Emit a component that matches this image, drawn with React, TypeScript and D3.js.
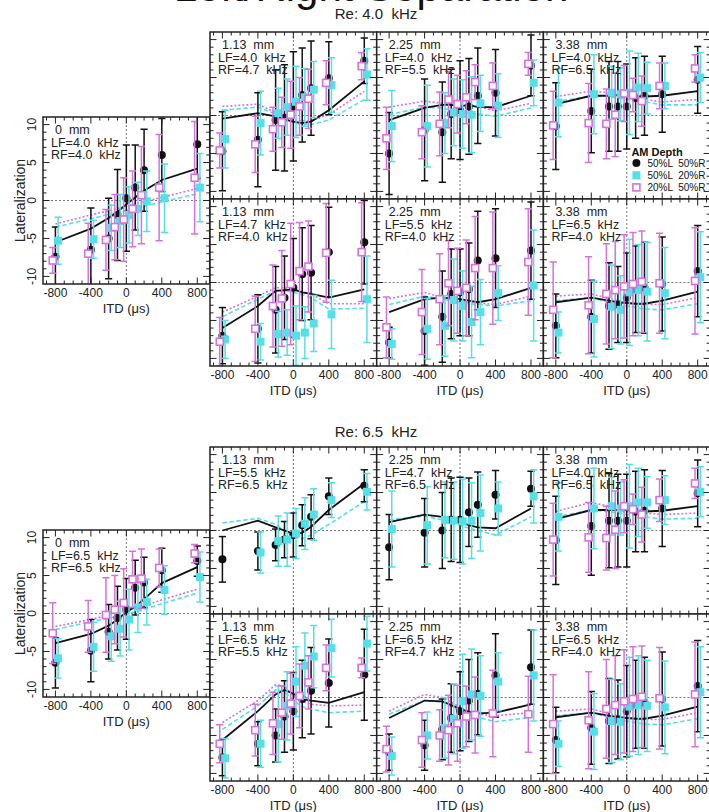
import React from "react";
import * as d3 from "d3";

// ---------- shared axis values ----------
const ITD = [-800, -400, -200, -100, 0, 100, 200, 400, 800];
const X_MAJOR = [-800, -400, 0, 400, 800];
const Y_MAJOR = [-10, -5, 0, 5, 10];
const SERIES_NAMES = ["50%L  50%R", "50%L  20%R", "20%L  50%R"];
const GROUP_TITLES = ["Re: 4.0  kHz", "Re: 6.5  kHz"];

// ---------- Re 4.0 kHz ----------
// each: [black (50%L 50%R), cyan (50%L 20%R), pink (20%L 50%R)]
const T0_MEAN = [
  [-7.4, -6.5, -5.0, -1.9, 0.3, 1.7, 4.0, 6.0, 7.4],
  [-5.3, -5.1, -3.6, -2.7, -1.9, -1.1, -0.1, 0.3, 1.7],
  [-7.9, -7.0, -5.2, -3.5, -2.5, -1.1, 0.7, 1.7, 3.0],
];
const T0_ERR = [
  [3.9, 5.5, 5.3, 6.0, 7.0, 5.6, 5.4, 4.8, 4.5],
  [3.1, 2.5, 3.0, 3.5, 3.7, 3.5, 4.0, 4.5, 4.5],
  [1.7, 4.0, 4.0, 4.3, 5.5, 5.0, 6.4, 7.0, 7.4],
];
const T0_MODEL = [
  [-5.5, -3.7, -2.3, -1.5, -0.5, 0.4, 1.3, 2.7, 4.2],
  [-3.5, -2.4, -1.85, -1.6, -1.3, -1.0, -0.75, -0.2, 0.9],
  [-3.1, -1.9, -1.35, -1.05, -0.75, -0.45, -0.15, 0.4, 1.6],
];

const T1_MEAN = [
  [-4.7, -3.2, -0.6, -0.3, 1.2, 2.7, 3.6, 4.9, 7.2],
  [-3.1, -1.0, 0.3, 1.1, 1.8, 2.4, 3.4, 4.0, 5.4],
  [-4.6, -3.8, -1.8, -0.9, 0.1, 1.2, 2.2, 4.3, 6.5],
];
const T1_ERR = [
  [5.2, 6.2, 6.6, 7.0, 7.2, 6.2, 6.2, 4.8, 3.0],
  [3.8, 4.2, 3.3, 3.7, 4.7, 3.8, 3.7, 3.6, 3.4],
  [2.3, 3.7, 2.9, 3.3, 4.4, 3.8, 3.9, 2.9, 1.8],
];
const T1_MODEL = [
  [-0.4, 0.3, -0.1, -0.5, -0.8, -1.0, -0.8, 0.7, 4.5],
  [0.7, 1.1, 0.2, -0.4, -1.0, -1.1, -1.2, -0.6, 2.1],
  [1.2, 1.5, 0.4, -0.1, -0.6, -0.7, -0.7, 0.1, 3.2],
];

const T2_MEAN = [
  [-5.0, -1.9, -2.2, 0.2, 0.7, 1.2, 2.6, 3.0, 6.6],
  [-1.4, -1.4, -1.0, 0.4, 0.2, 0.1, 1.6, 1.3, 4.3],
  [-3.0, -2.2, -1.1, 2.1, 1.5, 2.4, 4.4, 3.9, 6.8],
];
const T2_ERR = [
  [5.4, 6.7, 6.6, 5.9, 6.5, 6.3, 6.3, 5.7, 4.0],
  [4.7, 5.4, 4.0, 4.4, 4.5, 5.0, 3.7, 4.2, 3.0],
  [4.1, 3.5, 4.2, 3.7, 3.8, 3.5, 2.3, 3.0, 1.5],
];
const T2_MODEL = [
  [-0.6, 1.0, 1.4, 1.4, 1.2, 1.4, 1.1, 1.1, 2.6],
  [0.1, 1.1, 1.0, 0.7, 0.4, 0.3, 0.2, -0.1, 1.0],
  [1.1, 1.9, 1.6, 1.5, 1.4, 1.3, 1.2, 0.6, 1.6],
];

const T3_MEAN = [
  [-1.4, 0.6, 1.2, 1.2, 1.2, 2.3, 2.6, 2.8, 4.7],
  [1.7, 2.8, 3.0, 2.8, 3.0, 3.7, 3.6, 3.9, 5.0],
  [-1.3, -1.0, -1.1, 0.1, 2.9, 2.7, 1.9, 3.9, 6.2],
];
const T3_ERR = [
  [5.7, 5.5, 5.9, 5.9, 5.6, 5.3, 5.2, 5.0, 4.4],
  [4.5, 5.2, 3.5, 3.5, 5.5, 4.5, 3.4, 3.0, 3.3],
  [4.5, 5.2, 4.6, 5.5, 3.7, 2.2, 3.3, 3.0, 1.8],
];
const T3_MODEL = [
  [1.5, 2.6, 2.6, 2.7, 2.8, 2.5, 2.5, 2.6, 3.2],
  [1.8, 2.6, 2.5, 2.3, 2.1, 2.0, 1.8, 1.4, 1.4],
  [2.5, 3.2, 3.0, 2.6, 2.3, 2.2, 2.1, 1.8, 2.1],
];

const T4_MEAN = [
  [-7.0, -6.1, -3.6, -2.0, -0.7, 1.1, 1.3, 4.0, 5.3],
  [-7.5, -7.8, -6.8, -6.6, -7.0, -6.6, -5.4, -4.2, -2.2],
  [-7.8, -6.1, -3.1, -2.1, -0.2, 1.5, 2.1, 3.9, 4.0],
];
const T4_ERR = [
  [3.7, 4.5, 5.7, 5.5, 6.5, 6.1, 6.2, 5.9, 5.5],
  [2.5, 2.4, 3.0, 3.0, 3.9, 3.4, 3.7, 4.5, 5.7],
  [3.2, 4.3, 5.4, 6.3, 8.0, 6.4, 6.0, 6.5, 6.5],
];
const T4_MODEL = [
  [-6.0, -3.1, -1.1, -1.0, -0.9, -1.3, -1.5, -2.0, -0.9],
  [-4.5, -2.2, -1.1, -1.1, -1.3, -1.6, -2.0, -3.5, -3.4],
  [-3.9, -1.8, -0.7, -0.7, -0.9, -1.2, -1.5, -2.8, -2.8],
];

const T5_MEAN = [
  [-7.9, -6.4, -4.5, -1.5, -1.3, -0.9, 2.9, 3.2, 4.2],
  [-8.1, -6.1, -5.7, -2.3, -3.1, -5.2, -3.9, -1.4, -0.4],
  [-5.9, -3.9, -2.2, -0.1, -1.1, -0.7, 1.9, 1.9, 2.7],
];
const T5_ERR = [
  [2.0, 4.5, 6.0, 5.9, 5.7, 6.1, 6.5, 6.5, 6.4],
  [2.0, 4.0, 4.0, 5.4, 4.6, 4.7, 4.3, 3.6, 7.3],
  [4.0, 5.6, 6.0, 5.6, 5.6, 6.3, 6.8, 7.4, 7.0],
];
const T5_MODEL = [
  [-3.9, -2.2, -2.0, -2.1, -2.2, -2.4, -2.6, -2.2, -0.7],
  [-2.9, -1.8, -2.2, -2.4, -2.6, -2.8, -2.9, -3.1, -2.4],
  [-2.1, -1.3, -2.0, -2.2, -2.4, -2.6, -2.7, -2.9, -1.8],
];

const T6_MEAN = [
  [-5.7, -4.5, -3.1, -2.9, -2.0, -0.9, -0.7, -0.2, 1.5],
  [-6.6, -4.8, -3.2, -3.6, -1.3, -1.0, -1.2, -1.4, 0.7],
  [-3.6, -3.0, -1.5, -1.0, -0.5, -0.2, 0.1, -0.1, 0.2],
];
const T6_ERR = [
  [4.2, 4.8, 5.7, 5.0, 5.9, 5.7, 6.0, 6.2, 6.0],
  [2.7, 5.0, 5.5, 4.5, 7.0, 6.0, 6.5, 6.0, 6.0],
  [6.3, 6.4, 6.6, 6.4, 6.8, 6.8, 6.7, 6.6, 7.0],
];
const T6_MODEL = [
  [-2.6, -2.0, -2.4, -2.6, -2.7, -2.8, -2.8, -2.4, -1.2],
  [-2.4, -2.0, -2.6, -2.9, -3.1, -3.3, -3.5, -3.6, -2.8],
  [-1.8, -1.5, -2.1, -2.4, -2.6, -2.8, -2.9, -2.9, -2.0],
];

// ---------- Re 6.5 kHz ----------
const B0_MEAN = [
  [-6.5, -4.9, -2.4, -0.6, 0.6, 3.4, 4.1, 5.7, 6.9],
  [-5.9, -4.4, -3.0, -2.0, -0.8, 0.8, 1.5, 3.1, 4.8],
  [-2.6, -1.7, -0.2, 0.5, 1.4, 4.5, 4.6, 6.0, 7.9],
];
const B0_ERR = [
  [3.3, 4.1, 3.6, 4.2, 4.0, 3.6, 3.3, 2.9, 2.0],
  [2.6, 3.2, 3.3, 3.6, 4.0, 3.3, 3.0, 3.2, 3.3],
  [4.0, 3.4, 4.9, 4.5, 4.5, 3.7, 3.9, 2.5, 1.2],
];
const B0_MODEL = [
  [-3.9, -2.7, -1.6, -0.8, 0.2, 0.9, 1.9, 4.0, 6.1],
  [-2.1, -1.1, -0.6, -0.35, -0.1, 0.25, 0.55, 1.3, 2.7],
  [-1.7, -0.8, -0.2, 0.1, 0.4, 0.7, 1.0, 1.8, 3.2],
];

const B1_MEAN = [
  [-3.8, -2.7, -1.9, -1.2, -0.6, 0.7, 1.8, 4.5, 5.9],
  [null, -2.9, -1.4, -1.2, -0.4, 0.9, 2.1, 4.0, 5.1],
  null,
];
const B1_ERR = [
  [3.0, 2.5, 2.1, 2.4, 2.9, 2.7, 2.9, 2.4, 2.1],
  [2.5, 2.7, 3.3, 3.5, 3.3, 3.4, 3.4, 2.3, 2.4],
  null,
];
const B1_MODEL = [
  [0.0, 1.3, 0.4, 0.0, -0.4, -0.3, 0.5, 2.7, 6.2],
  [1.0, 1.6, 0.8, 0.0, -0.8, -1.1, -0.6, 0.8, 3.8],
  null,
];

const B2_MEAN = [
  [-2.2, -0.3, 0.0, 1.4, 1.4, 2.4, 3.4, 4.7, 5.5],
  [0.2, 0.7, 1.4, 1.3, 1.2, 1.3, 2.3, 2.9, 4.5],
  null,
];
const B2_ERR = [
  [4.3, 4.5, 5.0, 5.5, 5.6, 4.5, 4.3, 3.2, 2.3],
  [5.0, 5.1, 5.0, 5.1, 5.6, 5.0, 5.0, 3.5, 3.5],
  null,
];
const B2_MODEL = [
  [1.1, 2.1, 1.8, 1.4, 1.1, 0.7, 0.4, 0.3, 2.9],
  [1.4, 1.9, 1.4, 1.0, 0.7, 0.3, 0.0, -0.6, 1.8],
  null,
];

const B3_MEAN = [
  [-1.3, 0.6, 1.3, 1.3, 1.3, 2.5, 2.6, 2.9, 4.9],
  [1.8, 2.9, 3.2, 2.9, 3.2, 3.7, 3.7, 4.0, 5.1],
  [-1.2, -0.9, -1.0, 0.1, 3.2, 2.8, 2.1, 4.0, 6.2],
];
const B3_ERR = [
  [5.8, 6.5, 6.2, 6.1, 6.1, 5.3, 5.4, 5.0, 4.4],
  [4.5, 5.3, 3.8, 3.5, 5.5, 4.5, 3.4, 3.2, 3.3],
  [4.8, 4.6, 4.2, 5.1, 3.5, 2.0, 3.6, 2.8, 2.0],
];
const B3_MODEL = [
  [1.5, 2.7, 2.7, 2.7, 2.7, 2.5, 2.5, 2.6, 3.2],
  [1.8, 2.7, 2.5, 2.3, 2.1, 2.0, 1.8, 1.5, 1.6],
  [2.5, 3.7, 3.2, 2.8, 2.5, 2.4, 2.3, 2.1, 2.3],
];

const B4_MEAN = [
  [-7.9, -6.1, -5.0, -2.5, -1.8, -0.2, 0.9, 1.9, 3.0],
  [-8.0, -6.1, -3.5, -1.1, 2.1, 4.2, 5.4, 6.5, 7.1],
  [-6.1, -4.3, -3.4, -2.0, -0.8, 0.2, 2.0, 3.9, 3.9],
];
const B4_ERR = [
  [2.4, 2.9, 3.5, 4.7, 5.1, 5.1, 5.7, 5.8, 6.0],
  [2.6, 3.1, 5.0, 4.5, 4.6, 4.3, 4.1, 3.8, 3.6],
  [2.5, 3.4, 4.1, 3.5, 4.0, 4.2, 3.5, 3.0, 1.3],
];
const B4_MODEL = [
  [-5.6, -1.8, 0.4, 1.0, 0.5, -0.2, -0.4, -0.7, 0.7],
  [-4.2, -1.1, 1.0, 0.8, -0.4, -1.2, -1.5, -2.0, -1.8],
  [-3.3, -0.4, 1.7, 1.5, 0.2, -0.5, -0.9, -1.1, -1.0],
];

const B5_MEAN = [
  [-7.2, -6.3, -4.2, -2.7, -1.8, -0.4, 0.5, 2.9, 4.0],
  [-7.7, -5.0, -4.0, -2.8, -0.5, 0.4, 0.2, 2.1, 2.9],
  [-6.8, -5.6, -5.0, -4.3, -3.4, -2.5, -2.3, -2.1, -2.2],
];
const B5_ERR = [
  [2.4, 3.3, 4.0, 4.5, 5.2, 5.4, 5.4, 5.5, 4.9],
  [2.5, 3.1, 4.0, 4.6, 6.2, 6.0, 5.3, 3.8, 6.0],
  [3.0, 3.6, 3.4, 4.6, 5.0, 4.0, 5.0, 5.7, 5.0],
];
const B5_MODEL = [
  [-2.7, -0.4, -0.5, -1.0, -1.5, -1.9, -2.1, -2.0, -0.9],
  [-2.2, -0.4, -0.6, -1.2, -1.8, -2.2, -2.6, -3.2, -2.6],
  [-1.8, 0.4, 0.0, -0.6, -1.3, -1.8, -2.2, -2.4, -2.0],
];

const B6_MEAN = [
  [-5.6, -4.0, -3.1, -2.9, -1.8, -0.9, -0.7, -0.2, 1.5],
  [-6.1, -4.5, -3.1, -3.2, -1.2, -1.0, -1.1, -1.3, 0.7],
  [-3.5, -3.0, -1.5, -1.0, -0.5, -0.2, 0.1, -0.1, 0.4],
];
const B6_ERR = [
  [4.3, 4.8, 5.6, 5.2, 6.0, 5.8, 6.0, 6.2, 6.0],
  [3.0, 5.0, 5.5, 5.0, 6.5, 6.5, 6.0, 6.1, 6.0],
  [6.5, 6.4, 6.5, 6.5, 6.8, 6.9, 6.7, 6.7, 6.9],
];
const B6_MODEL = [
  [-2.6, -2.0, -2.4, -2.6, -2.7, -2.8, -2.8, -2.4, -1.2],
  [-2.4, -2.0, -2.6, -2.9, -3.1, -3.3, -3.5, -3.6, -2.8],
  [-1.8, -1.5, -2.1, -2.4, -2.6, -2.8, -2.9, -2.9, -2.0],
];

// ---------- styling / layout ----------
const FONT = "'Liberation Sans', Arial, Helvetica, sans-serif";
const COLORS = ["#111111", "#55dfe6", "#d672dc"];
const OFFSETS = [0, 30, -30];
const LINE_DASH = [null, "4.5,2.5", "2,2"];
const PW = 166.7;
const PH = 167;
const LX = 43;
const GX = [210, 210 + PW, 210 + 2 * PW];

type PanelDef = {
  id: string;
  x: number;
  y: number;
  label: string[];
  mean: any;
  err: any;
  model: any;
  xLabels: boolean;
  yLabels: boolean;
  legend?: boolean;
};

function makeGroup(
  g: number,
  top: number,
  leftTop: number,
  data: any[],
  labels: string[][]
): PanelDef[] {
  const out: PanelDef[] = [];
  out.push({
    id: `g${g}p0`, x: LX, y: leftTop, label: labels[0],
    mean: data[0][0], err: data[0][1], model: data[0][2],
    xLabels: true, yLabels: true,
  });
  for (let r = 0; r < 2; r++) {
    for (let c = 0; c < 3; c++) {
      const k = 1 + r * 3 + c;
      out.push({
        id: `g${g}p${k}`, x: GX[c], y: top + r * PH, label: labels[k],
        mean: data[k][0], err: data[k][1], model: data[k][2],
        xLabels: r === 1, yLabels: false,
        legend: g === 0 && r === 0 && c === 2,
      });
    }
  }
  return out;
}

const PANELS: PanelDef[] = [
  ...makeGroup(
    0, 32, 117,
    [
      [T0_MEAN, T0_ERR, T0_MODEL], [T1_MEAN, T1_ERR, T1_MODEL], [T2_MEAN, T2_ERR, T2_MODEL],
      [T3_MEAN, T3_ERR, T3_MODEL], [T4_MEAN, T4_ERR, T4_MODEL], [T5_MEAN, T5_ERR, T5_MODEL],
      [T6_MEAN, T6_ERR, T6_MODEL],
    ],
    [
      ["0  mm", "LF=4.0  kHz", "RF=4.0  kHz"],
      ["1.13  mm", "LF=4.0  kHz", "RF=4.7  kHz"],
      ["2.25  mm", "LF=4.0  kHz", "RF=5.5  kHz"],
      ["3.38  mm", "LF=4.0  kHz", "RF=6.5  kHz"],
      ["1.13  mm", "LF=4.7  kHz", "RF=4.0  kHz"],
      ["2.25  mm", "LF=5.5  kHz", "RF=4.0  kHz"],
      ["3.38  mm", "LF=6.5  kHz", "RF=4.0  kHz"],
    ]
  ),
  ...makeGroup(
    1, 447, 530,
    [
      [B0_MEAN, B0_ERR, B0_MODEL], [B1_MEAN, B1_ERR, B1_MODEL], [B2_MEAN, B2_ERR, B2_MODEL],
      [B3_MEAN, B3_ERR, B3_MODEL], [B4_MEAN, B4_ERR, B4_MODEL], [B5_MEAN, B5_ERR, B5_MODEL],
      [B6_MEAN, B6_ERR, B6_MODEL],
    ],
    [
      ["0  mm", "LF=6.5  kHz", "RF=6.5  kHz"],
      ["1.13  mm", "LF=5.5  kHz", "RF=6.5  kHz"],
      ["2.25  mm", "LF=4.7  kHz", "RF=6.5  kHz"],
      ["3.38  mm", "LF=4.0  kHz", "RF=6.5  kHz"],
      ["1.13  mm", "LF=6.5  kHz", "RF=5.5  kHz"],
      ["2.25  mm", "LF=6.5  kHz", "RF=4.7  kHz"],
      ["3.38  mm", "LF=6.5  kHz", "RF=4.0  kHz"],
    ]
  ),
];

function Marker({ s, cx, cy }: { s: number; cx: number; cy: number }) {
  if (s === 0) return <circle cx={cx} cy={cy} r={4} fill={COLORS[0]} />;
  if (s === 1)
    return <rect x={cx - 4} y={cy - 4} width={8} height={8} fill={COLORS[1]} />;
  return (
    <rect x={cx - 3.5} y={cy - 3.5} width={7} height={7} fill="#fff"
      stroke={COLORS[2]} strokeWidth={1.6} />
  );
}

function Panel({ p }: { p: PanelDef }) {
  const x = d3.scaleLinear().domain([-940, 940]).range([p.x, p.x + PW]);
  const y = d3.scaleLinear().domain([-11, 11]).range([p.y + PH, p.y]);
  const line = d3
    .line<number>()
    .x((_, i) => x(ITD[i]))
    .y((d) => y(d));
  const clip = `clip-${p.id}`;
  const xMinor = d3.range(-900, 901, 100);
  const yMinor = d3.range(-10, 11, 1);
  const x0 = p.x, x1 = p.x + PW, y0 = p.y, y1 = p.y + PH;
  const tickColor = "#222";

  return (
    <g>
      <defs>
        <clipPath id={clip}>
          <rect x={x0} y={y0} width={PW} height={PH} />
        </clipPath>
      </defs>
      <rect x={x0} y={y0} width={PW} height={PH} fill="#fff" />
      <g clipPath={`url(#${clip})`}>
        <line x1={x0} x2={x1} y1={y(0)} y2={y(0)} stroke="#555" strokeWidth={0.8} strokeDasharray="2,2" />
        <line x1={x(0)} x2={x(0)} y1={y0} y2={y1} stroke="#555" strokeWidth={0.8} strokeDasharray="2,2" />
        {[2, 1, 0].map((s) =>
          p.model[s] ? (
            <path key={`m${s}`} d={line(p.model[s]) || ""} fill="none" stroke={COLORS[s]}
              strokeWidth={s === 0 ? 1.8 : 1.6} strokeDasharray={LINE_DASH[s] || undefined} />
          ) : null
        )}
        {[0, 1, 2].map((s) =>
          p.mean[s] ? (
            <g key={`s${s}`}>
              {ITD.map((t, i) => {
                const m = p.mean[s][i];
                if (m === null || m === undefined) return null;
                const e = p.err[s][i];
                const cx = x(t + OFFSETS[s]);
                const ya = y(m + e), yb = y(m - e);
                return (
                  <g key={i} stroke={COLORS[s]} strokeWidth={1.5}>
                    <line x1={cx} x2={cx} y1={ya} y2={yb} />
                    <line x1={cx - 3.6} x2={cx + 3.6} y1={ya} y2={ya} />
                    <line x1={cx - 3.6} x2={cx + 3.6} y1={yb} y2={yb} />
                  </g>
                );
              })}
              {ITD.map((t, i) => {
                const m = p.mean[s][i];
                if (m === null || m === undefined) return null;
                return <Marker key={`k${i}`} s={s} cx={x(t + OFFSETS[s])} cy={y(m)} />;
              })}
            </g>
          ) : null
        )}
      </g>
      {/* ticks */}
      <g stroke={tickColor} strokeWidth={1}>
        {xMinor.map((t) => {
          const len = X_MAJOR.includes(t) ? 6.5 : 3.5;
          return (
            <g key={`xt${t}`}>
              <line x1={x(t)} x2={x(t)} y1={y1} y2={y1 - len} />
              <line x1={x(t)} x2={x(t)} y1={y0} y2={y0 + len} />
            </g>
          );
        })}
        {yMinor.map((v) => {
          const len = Y_MAJOR.includes(v) ? 6.5 : 3.5;
          return (
            <g key={`yt${v}`}>
              <line x1={x0} x2={x0 + len} y1={y(v)} y2={y(v)} />
              <line x1={x1} x2={x1 - len} y1={y(v)} y2={y(v)} />
            </g>
          );
        })}
      </g>
      <rect x={x0} y={y0} width={PW} height={PH} fill="none" stroke="#222" strokeWidth={1.5} />
      {/* panel text */}
      <g fontFamily={FONT} fontSize={12.5} fill="#222">
        <text x={x0 + 12} y={y0 + 17} style={{ whiteSpace: "pre" }}>{p.label[0]}</text>
        <text x={x0 + 8} y={y0 + 29.5} style={{ whiteSpace: "pre" }}>{p.label[1]}</text>
        <text x={x0 + 8} y={y0 + 42} style={{ whiteSpace: "pre" }}>{p.label[2]}</text>
      </g>
      {p.xLabels && (
        <g fontFamily={FONT} fontSize={12} fill="#222" textAnchor="middle">
          {X_MAJOR.map((t) => (
            <text key={`xl${t}`} x={x(t)} y={y1 + 13}>{t < 0 ? `-${-t}` : `${t}`}</text>
          ))}
          <text x={(x0 + x1) / 2} y={y1 + 29} fontSize={13}>ITD (μs)</text>
        </g>
      )}
      {p.yLabels && (
        <g fontFamily={FONT} fontSize={12} fill="#222" textAnchor="middle">
          {Y_MAJOR.map((v) => (
            <text key={`yl${v}`} transform={`translate(${x0 - 7},${y(v)}) rotate(-90)`}>
              {v < 0 ? `-${-v}` : `${v}`}
            </text>
          ))}
          <text transform={`translate(${x0 - 18},${(y0 + y1) / 2}) rotate(-90)`} fontSize={14}>
            Lateralization
          </text>
        </g>
      )}
      {p.legend && (
        <g fontFamily={FONT} fontSize={10} fill="#111">
          <text x={x0 + 88} y={y0 + 124} fontWeight="bold" fontSize={11}>AM Depth</text>
          {SERIES_NAMES.map((n, i) => (
            <g key={n}>
              <Marker s={i} cx={x0 + 93} cy={y0 + 131 + i * 12.2} />
              <text x={x0 + 104} y={y0 + 134.5 + i * 12.2} style={{ whiteSpace: "pre" }}>{n}</text>
            </g>
          ))}
        </g>
      )}
    </g>
  );
}

export default function App() {
  const GROUP_Y = [19, 437];
  return (
    <svg width={709} height={812} viewBox="0 0 709 812"
      style={{ position: "absolute", left: 0, top: 0, background: "#fff" }}>
      <rect x={0} y={0} width={709} height={812} fill="#fff" />
      <text x={371} y={1} fontFamily={FONT} fontSize={42} textAnchor="middle" fill="#111">
        Left/Right Separation
      </text>
      {GROUP_TITLES.map((t, i) => (
        <text key={t} x={376} y={GROUP_Y[i]} fontFamily={FONT} fontSize={15} textAnchor="middle"
          fill="#222" style={{ whiteSpace: "pre" }}>
          {t}
        </text>
      ))}
      {PANELS.map((p) => (
        <Panel key={p.id} p={p} />
      ))}
    </svg>
  );
}
